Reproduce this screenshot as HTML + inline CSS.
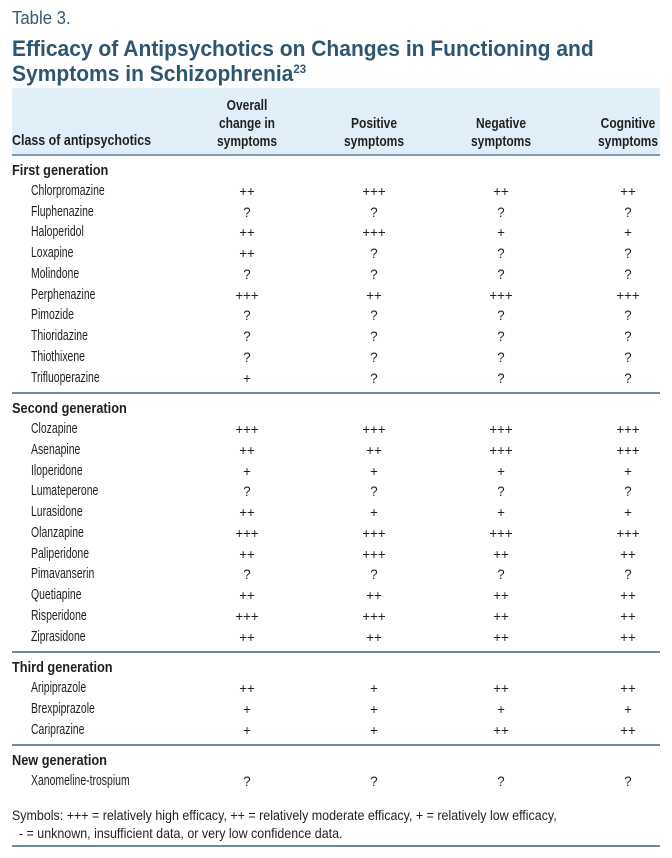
<!DOCTYPE html>
<html><head><meta charset="utf-8"><style>
html,body{margin:0;padding:0;background:#fff;}
body{width:672px;height:858px;position:relative;overflow:hidden;font-family:"Liberation Sans",sans-serif;color:#231f20;}
.t{position:absolute;white-space:nowrap;transform-origin:0 50%;line-height:1;}
.c{position:absolute;white-space:nowrap;line-height:1;transform:translateX(-50%) scaleX(.8);}
.s{transform:translateX(-50%) scaleX(.95);}
.b{font-weight:bold;}
.line{position:absolute;left:12px;width:648px;height:2px;background:#6b8da1;}
</style></head><body>
<div class="t" style="left:12px;top:9px;font-size:18px;color:#2f5a74;transform:scaleX(.93)">Table 3.</div>
<div class="t b" style="left:12px;top:36px;font-size:22px;color:#2f5670;transform:scaleX(.955);line-height:25px">Efficacy of Antipsychotics on Changes in Functioning and<br>Symptoms in Schizophrenia<sup style="font-size:12px;vertical-align:8px;line-height:0">23</sup></div>
<div style="position:absolute;left:12px;top:88px;width:648px;height:67px;background:#dfeef7"></div>
<div class="line" style="top:154px;background:#7f9aa9"></div>
<div id="tbl"></div>
<script>
const columns = ["Overall<br>change in<br>symptoms","Positive<br>symptoms","Negative<br>symptoms","Cognitive<br>symptoms"];
const groups = ["First generation","Second generation","Third generation","New generation"];
const drugs = [
 ["Chlorpromazine","Fluphenazine","Haloperidol","Loxapine","Molindone","Perphenazine","Pimozide","Thioridazine","Thiothixene","Trifluoperazine"],
 ["Clozapine","Asenapine","Iloperidone","Lumateperone","Lurasidone","Olanzapine","Paliperidone","Pimavanserin","Quetiapine","Risperidone","Ziprasidone"],
 ["Aripiprazole","Brexpiprazole","Cariprazine"],
 ["Xanomeline-trospium"]];
const ratings = [
 [["++","+++","++","++"],["?","?","?","?"],["++","+++","+","+"],["++","?","?","?"],["?","?","?","?"],["+++","++","+++","+++"],["?","?","?","?"],["?","?","?","?"],["?","?","?","?"],["+","?","?","?"]],
 [["+++","+++","+++","+++"],["++","++","+++","+++"],["+","+","+","+"],["?","?","?","?"],["++","+","+","+"],["+++","+++","+++","+++"],["++","+++","++","++"],["?","?","?","?"],["++","++","++","++"],["+++","+++","++","++"],["++","++","++","++"]],
 [["++","+","++","++"],["+","+","+","+"],["+","+","++","++"]],
 [["?","?","?","?"]]];
const root=document.getElementById('tbl');
const colX=[247,374,501,628];
const rowH=20.75;
function mk(cls,txt,left,top,size){const d=document.createElement('div');d.className=cls;d.innerHTML=txt;d.style.left=left+'px';d.style.top=top+'px';d.style.fontSize=size+'px';root.appendChild(d);return d;}
let h=mk('t b','Class of antipsychotics',12,133,15);h.style.transform='scaleX(.83)';


columns.forEach((c,i)=>{const n=c.split('<br>').length;const d=mk('c b',c,colX[i],150-n*18+1,15);d.style.lineHeight='18px';d.style.textAlign='center';

});
let y=163;
groups.forEach((g,gi)=>{
 const gd=mk('t b',g,12,y,15);gd.style.transform='scaleX(.85)';
 
 
 y+=rowH;
 drugs[gi].forEach((dn,ri)=>{
  const r=mk('t',dn,31,y,14.5);r.style.transform='scaleX(.72)';
  
  
  ratings[gi][ri].forEach((v,ci)=>{const s=mk('c s',v,colX[ci],y,14);
   
   });
  y+=rowH;
 });
 if(gi<groups.length-1){const l=document.createElement('div');l.className='line';l.style.top=(y+1)+'px';
  
  
  root.appendChild(l);y+=10;}
});
</script>
<div class="t" style="left:12px;top:806px;font-size:14px;line-height:18px;transform:scaleX(.89);transform-origin:0 0">Symbols: +++ = relatively high efficacy, ++ = relatively moderate efficacy, + = relatively low efficacy,<br>&nbsp;&nbsp;- = unknown, insufficient data, or very low confidence data.</div>
<div class="line" style="top:845px"></div>
</body></html>
